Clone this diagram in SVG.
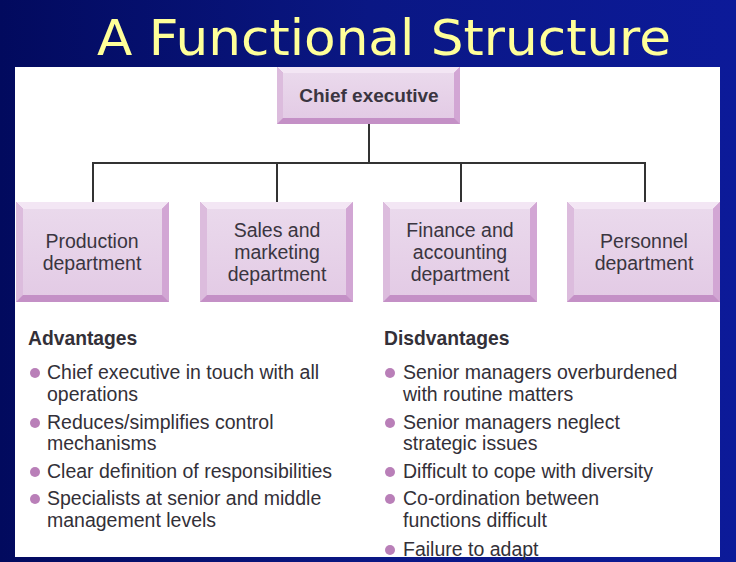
<svg xmlns="http://www.w3.org/2000/svg" width="736" height="562" viewBox="0 0 736 562">
<defs>
<linearGradient id="bg" x1="0" y1="0" x2="1" y2="0">
<stop offset="0" stop-color="#020a5e"/>
<stop offset="0.5" stop-color="#0a1784"/>
<stop offset="1" stop-color="#0c1a99"/>
</linearGradient>
<linearGradient id="face" x1="0" y1="0" x2="0" y2="1">
<stop offset="0" stop-color="#ead9ec"/>
<stop offset="1" stop-color="#e3cbe5"/>
</linearGradient>
</defs>
<style>
.title{font-family:"Comic Sans MS","DejaVu Sans",sans-serif;font-size:50px;fill:#ffff99}
.node{font-family:"Liberation Sans",Arial,sans-serif;font-size:19.5px;fill:#3a3540;text-anchor:middle}
.bold{font-weight:bold;font-size:19px}
.body{font-family:"Liberation Sans",Arial,sans-serif;font-size:19.5px;fill:#333038}
.head{font-family:"Liberation Sans",Arial,sans-serif;font-size:19.3px;font-weight:bold;fill:#333038}
.face{fill:url(#face)}
.bt{fill:#f3e6f4}
.bl{fill:#dcbcdd}
.bb{fill:#c490c6}
.br{fill:#d2a6d4}
.line{stroke:#333;stroke-width:2;fill:none}
.dot{fill:#b97fb8}
</style>
<rect x="0" y="0" width="736" height="562" fill="url(#bg)"/>
<text class="title" x="384" y="55" text-anchor="middle" textLength="574" lengthAdjust="spacingAndGlyphs">A Functional Structure</text>
<rect x="15" y="67" width="705" height="490" fill="#ffffff"/>

<g id="connectors">
<path class="line" d="M369 124 V163 M93 163 H645 M93 162 V202 M277 162 V202 M461 162 V202 M645 162 V202"/>
</g>

<g id="chief">
<rect class="bb" x="277" y="67" width="183" height="57"/>
<polygon class="bt" points="277,67 460,67 454,73 283,73"/>
<polygon class="bl" points="277,67 283,73 283,118 277,124"/>
<polygon class="br" points="460,67 460,124 454,118 454,73"/>
<rect class="face" x="283" y="73" width="171" height="45"/>
<text class="node bold" x="369" y="102">Chief executive</text>
</g>

<g id="production">
<rect class="bb" x="16" y="202" width="153" height="100"/>
<polygon class="bt" points="16,202 169,202 162,209 23,209"/>
<polygon class="bl" points="16,202 23,209 23,295 16,302"/>
<polygon class="br" points="169,202 169,302 162,295 162,209"/>
<rect class="face" x="23" y="209" width="139" height="86"/>
<text class="node" x="92" y="248">Production</text>
<text class="node" x="92" y="270">department</text>
</g>

<g id="sales">
<rect class="bb" x="200" y="202" width="153" height="100"/>
<polygon class="bt" points="200,202 353,202 346,209 207,209"/>
<polygon class="bl" points="200,202 207,209 207,295 200,302"/>
<polygon class="br" points="353,202 353,302 346,295 346,209"/>
<rect class="face" x="207" y="209" width="139" height="86"/>
<text class="node" x="277" y="237">Sales and</text>
<text class="node" x="277" y="259">marketing</text>
<text class="node" x="277" y="281">department</text>
</g>

<g id="finance">
<rect class="bb" x="383" y="202" width="154" height="100"/>
<polygon class="bt" points="383,202 537,202 530,209 390,209"/>
<polygon class="bl" points="383,202 390,209 390,295 383,302"/>
<polygon class="br" points="537,202 537,302 530,295 530,209"/>
<rect class="face" x="390" y="209" width="140" height="86"/>
<text class="node" x="460" y="237">Finance and</text>
<text class="node" x="460" y="259">accounting</text>
<text class="node" x="460" y="281">department</text>
</g>

<g id="personnel">
<rect class="bb" x="567" y="202" width="153" height="100"/>
<polygon class="bt" points="567,202 720,202 713,209 574,209"/>
<polygon class="bl" points="567,202 574,209 574,295 567,302"/>
<polygon class="br" points="720,202 720,302 713,295 713,209"/>
<rect class="face" x="574" y="209" width="139" height="86"/>
<text class="node" x="644" y="248">Personnel</text>
<text class="node" x="644" y="270">department</text>
</g>

<g id="advantages">
<text class="head" x="28" y="345">Advantages</text>
<circle class="dot" cx="35" cy="373" r="5"/>
<text class="body" x="47" y="379">Chief executive in touch with all</text>
<text class="body" x="47" y="401">operations</text>
<circle class="dot" cx="35" cy="423" r="5"/>
<text class="body" x="47" y="429">Reduces/simplifies control</text>
<text class="body" x="47" y="450">mechanisms</text>
<circle class="dot" cx="35" cy="472" r="5"/>
<text class="body" x="47" y="478">Clear definition of responsibilities</text>
<circle class="dot" cx="35" cy="499" r="5"/>
<text class="body" x="47" y="505">Specialists at senior and middle</text>
<text class="body" x="47" y="527">management levels</text>
</g>

<g id="disadvantages">
<text class="head" x="384" y="345">Disdvantages</text>
<circle class="dot" cx="390" cy="373" r="5"/>
<text class="body" x="403" y="379">Senior managers overburdened</text>
<text class="body" x="403" y="401">with routine matters</text>
<circle class="dot" cx="390" cy="423" r="5"/>
<text class="body" x="403" y="429">Senior managers neglect</text>
<text class="body" x="403" y="450">strategic issues</text>
<circle class="dot" cx="390" cy="472" r="5"/>
<text class="body" x="403" y="478">Difficult to cope with diversity</text>
<circle class="dot" cx="390" cy="499" r="5"/>
<text class="body" x="403" y="505">Co-ordination between</text>
<text class="body" x="403" y="527">functions difficult</text>
<circle class="dot" cx="390" cy="550" r="5"/>
<text class="body" x="403" y="556">Failure to adapt</text>
</g>
</svg>
